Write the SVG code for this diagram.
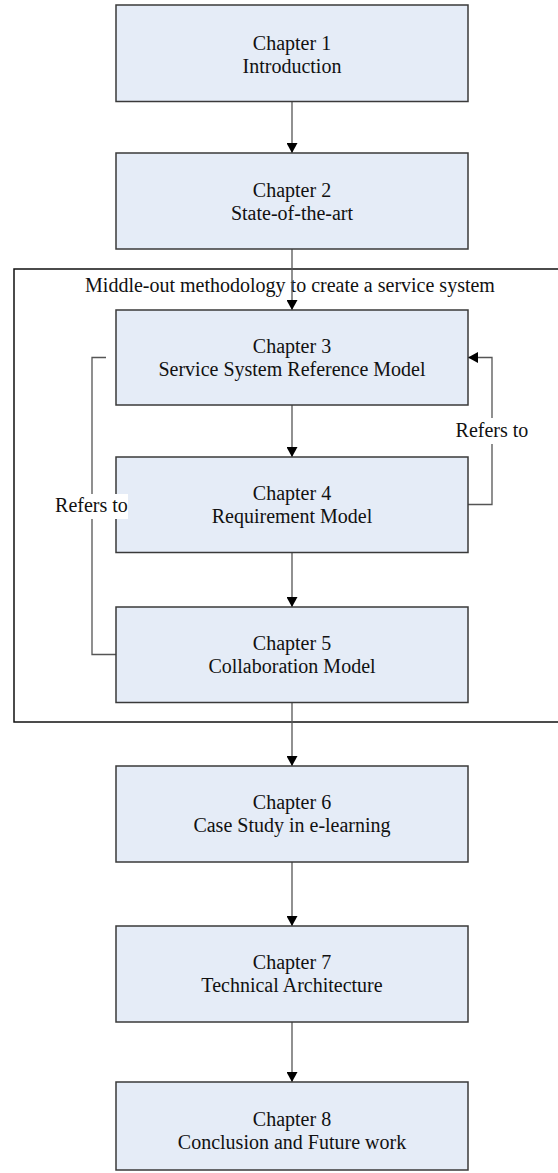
<svg xmlns="http://www.w3.org/2000/svg" width="558" height="1173" viewBox="0 0 558 1173">
<style>
.box{fill:#E5ECF7;stroke:#3a3a3a;stroke-width:1.5}
.t{font-family:"Liberation Serif","Times New Roman",serif;font-size:20px;fill:#111;text-anchor:middle}
.c{fill:none;stroke:#555;stroke-width:1.3}
.frame{fill:none;stroke:#111;stroke-width:1.5}
</style>
<defs>
<marker id="ah" markerWidth="10" markerHeight="11" refX="10" refY="5.5" orient="auto" markerUnits="userSpaceOnUse">
<path d="M0,0 L10,5.5 L0,11 Z" fill="#000"/>
</marker>
</defs>
<rect class="frame" x="14" y="269" width="560" height="453"/>
<text class="t" x="290" y="292">Middle-out methodology to create a service system</text>
<g id="connectors">
<line class="c" x1="292" y1="102" x2="292" y2="153" marker-end="url(#ah)"/>
<line class="c" x1="292" y1="249" x2="292" y2="310" marker-end="url(#ah)"/>
<line class="c" x1="292" y1="405" x2="292" y2="457" marker-end="url(#ah)"/>
<line class="c" x1="292" y1="552" x2="292" y2="607" marker-end="url(#ah)"/>
<line class="c" x1="292" y1="702" x2="292" y2="766" marker-end="url(#ah)"/>
<line class="c" x1="292" y1="862" x2="292" y2="926" marker-end="url(#ah)"/>
<line class="c" x1="292" y1="1022" x2="292" y2="1082" marker-end="url(#ah)"/>
<polyline class="c" points="468,504.5 492,504.5 492,357.5 468,357.5" marker-end="url(#ah)"/>
<polyline class="c" points="106,357.5 92,357.5 92,654.5 116,654.5"/>
</g>
<g id="n1"><rect class="box" x="116" y="5" width="352" height="96.5"/><text class="t" x="292" y="49.5">Chapter 1</text><text class="t" x="292" y="72.5">Introduction</text></g>
<g id="n2"><rect class="box" x="116" y="153" width="352" height="96"/><text class="t" x="292" y="197">Chapter 2</text><text class="t" x="292" y="220">State-of-the-art</text></g>
<g id="n3"><rect class="box" x="116" y="310" width="352" height="95"/><text class="t" x="292" y="353">Chapter 3</text><text class="t" x="292" y="376">Service System Reference Model</text></g>
<g id="n4"><rect class="box" x="116" y="457" width="352" height="95.5"/><text class="t" x="292" y="500">Chapter 4</text><text class="t" x="292" y="523">Requirement Model</text></g>
<g id="n5"><rect class="box" x="116" y="607" width="352" height="95.5"/><text class="t" x="292" y="650">Chapter 5</text><text class="t" x="292" y="673">Collaboration Model</text></g>
<g id="n6"><rect class="box" x="116" y="766" width="352" height="96"/><text class="t" x="292" y="809">Chapter 6</text><text class="t" x="292" y="832">Case Study in e-learning</text></g>
<g id="n7"><rect class="box" x="116" y="926" width="352" height="96"/><text class="t" x="292" y="968.5">Chapter 7</text><text class="t" x="292" y="991.5">Technical Architecture</text></g>
<g id="n8"><rect class="box" x="116" y="1082" width="352" height="88"/><text class="t" x="292" y="1126">Chapter 8</text><text class="t" x="292" y="1148.5">Conclusion and Future work</text></g>
<g id="labels">
<rect x="454" y="418" width="76" height="26" fill="#fff"/>
<text class="t" x="492" y="437">Refers to</text>
<rect x="55" y="494" width="73" height="25" fill="#fff"/>
<text class="t" x="91.5" y="512">Refers to</text>
</g>
</svg>
